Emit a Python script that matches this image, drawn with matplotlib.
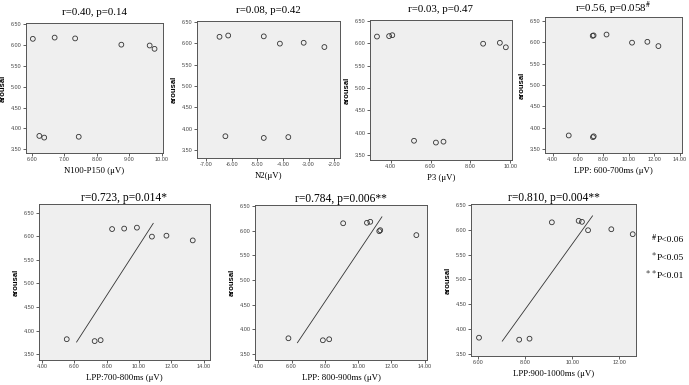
import matplotlib
matplotlib.use("Agg")
import matplotlib.pyplot as plt
import numpy as np

# ---------------- data ----------------
titles = ["r=0.40, p=0.14", "r=0.08, p=0.42", "r=0.03, p=0.47",
          r"r=0.56, p=0.058$^{\#}$",
          "r=0.723, p=0.014*", "r=0.784, p=0.006**", "r=0.810, p=0.004**"]
xlabels = ["N100-P150 (\u03bcV)", "N2(\u03bcV)", "P3 (\u03bcV)", "LPP: 600-700ms (\u03bcV)",
           "LPP:700-800ms (\u03bcV)", "LPP: 800-900ms (\u03bcV)", "LPP:900-1000ms (\u03bcV)"]

x_n100 = [6.03, 6.70, 7.33, 8.75, 9.62, 9.77, 6.23, 6.38, 7.44]
y_n100 = [6.15, 6.18, 6.16, 6.01, 5.99, 5.91, 3.82, 3.78, 3.80]
x_n2 = [-6.48, -6.14, -4.75, -4.12, -3.19, -2.38, -6.25, -4.75, -3.79]
y_n2 = [6.15, 6.18, 6.16, 5.99, 6.01, 5.91, 3.82, 3.78, 3.80]
x_p3 = [3.31, 3.92, 4.08, 8.64, 9.48, 9.78, 5.17, 6.27, 6.65]
y_p3 = [6.15, 6.16, 6.18, 5.99, 6.01, 5.91, 3.82, 3.78, 3.80]
x_lpp600 = [7.15, 7.22, 8.24, 10.25, 11.46, 12.33, 5.26, 7.17, 7.23]
y_lpp600 = [6.15, 6.16, 6.18, 5.99, 6.01, 5.91, 3.82, 3.78, 3.80]
x_lpp700 = [8.33, 9.08, 9.87, 10.80, 11.70, 13.33, 5.52, 7.25, 7.62]
y_lpp700 = [6.15, 6.16, 6.18, 5.99, 6.01, 5.91, 3.82, 3.78, 3.80]
x_lpp800 = [9.10, 10.53, 10.73, 11.27, 11.33, 13.50, 5.81, 7.88, 8.26]
y_lpp800 = [6.15, 6.16, 6.18, 5.99, 6.01, 5.91, 3.82, 3.78, 3.80]
x_lpp900 = [9.13, 10.27, 10.41, 10.67, 11.66, 12.57, 6.03, 7.74, 8.18]
y_lpp900 = [6.15, 6.18, 6.16, 5.99, 6.01, 5.91, 3.82, 3.78, 3.80]

# fit lines (endpoints as drawn)
fit_x = [None, None, None, None, [6.13, 10.88], [6.35, 11.43], [7.02, 10.86]]
fit_y = [None, None, None, None, [3.76, 6.27], [3.73, 6.28], [3.75, 6.28]]

xticks = [[6, 7, 8, 9, 10], [-7, -6, -5, -4, -3, -2], [4, 6, 8, 10],
          [4, 6, 8, 10, 12, 14], [4, 6, 8, 10, 12, 14], [4, 6, 8, 10, 12, 14],
          [6, 8, 10, 12]]
yticks = [3.5, 4.0, 4.5, 5.0, 5.5, 6.0, 6.5]

legend_marks = [r"$^{\#}$", r"$^{*}$", r"$^{*\,*}$"]
legend_texts = ["P<0.06", "P<0.05", "P<0.01"]

xs = [x_n100, x_n2, x_p3, x_lpp600, x_lpp700, x_lpp800, x_lpp900]
ys = [y_n100, y_n2, y_p3, y_lpp600, y_lpp700, y_lpp800, y_lpp900]

# ---------------- layout ----------------
W, H = 689, 385
boxes = [(26, 163, 23, 153), (197, 340, 21, 158), (370, 512, 20, 160), (545, 682, 17, 153),
         (39, 210, 204, 360), (255, 427, 205, 360), (471, 636, 204, 356)]
xlims = [(5.82, 10.03), (-7.36, -1.77), (2.96, 10.09), (3.39, 14.19),
         (3.8, 14.4), (3.8, 14.14), (5.69, 12.71)]
ylims = [(3.41, 6.53), (3.31, 6.52), (3.39, 6.52), (3.41, 6.59),
         (3.38, 6.68), (3.38, 6.52), (3.45, 6.52)]
title_pads = [5.5, 5.5, 5.5, 2.5, 1.0, 1.5, 1.5]
title_sizes = [7.8, 7.8, 7.8, 7.8, 8.3, 8.3, 8.3]

plt.rcParams['mathtext.fontset'] = 'stix'
serif = ['Liberation Serif', 'DejaVu Serif']
sans = ['Liberation Sans', 'DejaVu Sans']

fig = plt.figure(figsize=(W / 100, H / 100), dpi=100)
fig.patch.set_facecolor('white')

for i in range(7):
    l, r, t, b = boxes[i]
    ax = fig.add_axes([l / W, 1 - b / H, (r - l) / W, (b - t) / H])
    ax.set_facecolor('#efefef')
    ax.scatter(xs[i], ys[i], s=12, facecolors='none', edgecolors='#333333', linewidths=0.6, zorder=3)
    if fit_x[i] is not None:
        ax.plot(fit_x[i], fit_y[i], color='#333333', lw=0.6, zorder=2)
    ax.set_xlim(*xlims[i])
    ax.set_ylim(*ylims[i])
    ax.set_xticks(xticks[i])
    ax.set_xticklabels(["%.2f" % v for v in xticks[i]], fontfamily=sans, fontsize=4, color='#333333')
    ax.set_yticks(yticks)
    ax.set_yticklabels(["%.2f" % v for v in yticks], fontfamily=sans, fontsize=4, color='#333333')
    ax.tick_params(length=2, width=0.6, pad=1.2, colors='#444444', direction='out')
    for sp in ax.spines.values():
        sp.set_color('#555555')
        sp.set_linewidth(0.7)
    ax.set_title(titles[i], fontfamily=serif, fontsize=title_sizes[i], pad=title_pads[i])
    ax.set_xlabel(xlabels[i], fontfamily=serif, fontsize=6.3, labelpad=3)
    ax.set_ylabel("arousal", fontfamily=sans, fontsize=5.5, fontweight='bold', labelpad=3)

for j in range(3):
    yy = 1 - (240 + 18 * j) / H
    fig.text(657 / W, yy, legend_marks[j], ha='right', va='center', fontfamily=serif, fontsize=8.5)
    fig.text(657 / W, yy, legend_texts[j], ha='left', va='center', fontfamily=serif, fontsize=6.8)

fig.savefig('out.png', dpi=100, facecolor='white')
